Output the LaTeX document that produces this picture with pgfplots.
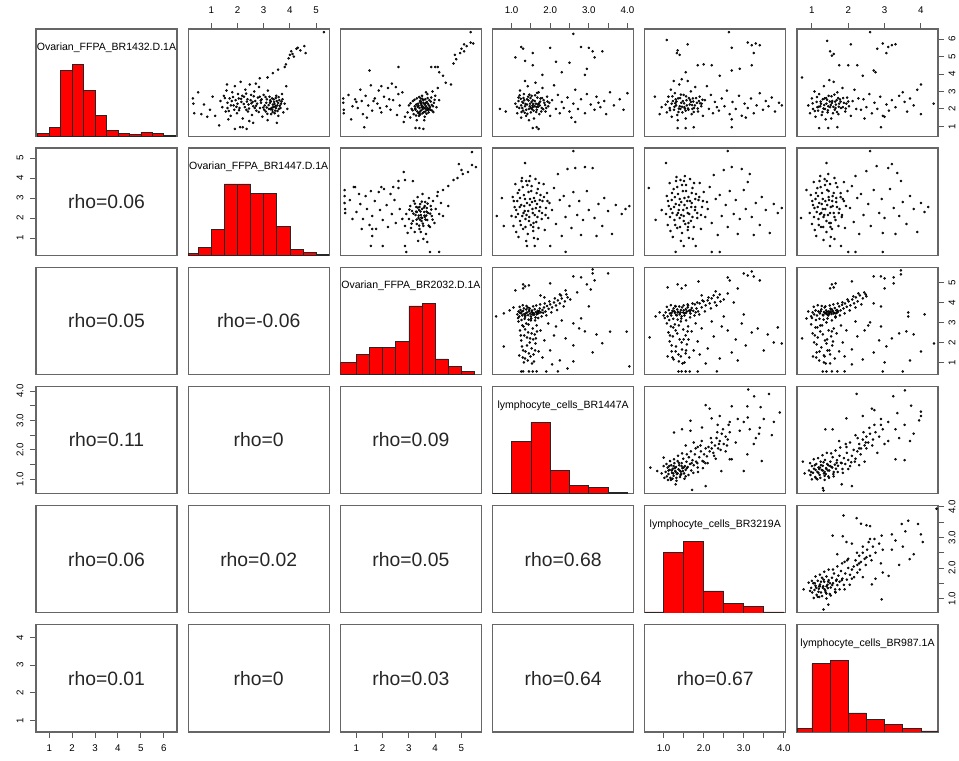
\documentclass[border=0pt]{standalone}
\usepackage{fontspec}
\setmainfont{Liberation Sans}
\usepackage{pgfplots}
\pgfplotsset{compat=1.18}
\newcommand\tf{\fontsize{7.3}{8}\selectfont}
\newcommand\rf{\fontsize{14.5}{16}\selectfont}
\newcommand\hf{\fontsize{7.9}{9}\selectfont}
\pgfplotsset{
 panel/.style={scale only axis, width=105.75pt, height=80.6pt, anchor=north west,
   axis line style={draw=black!60, line width=0.9pt}, xtick=\empty, ytick=\empty,
   tick align=outside, major tick length=4.5pt, tick style={draw=black!65, line width=0.7pt},
   ticklabel style={font=\tf}},
 sc/.style={only marks, mark=*, mark size=0.75pt, mark options={draw=none, fill=black!80}},
 hb/.style={ybar interval, fill=red, draw=black!85, line width=0.5pt, mark=none},
 Xa/.style={xmin=0.42, xmax=6.58}, Ya/.style={ymin=0.42, ymax=6.58},
 Xb/.style={xmin=0.12, xmax=5.50}, Yb/.style={ymin=0.12, ymax=5.50},
 Xc/.style={xmin=0.39, xmax=5.76}, Yc/.style={ymin=0.39, ymax=5.76},
 Xd/.style={xmin=0.51, xmax=4.16}, Yd/.style={ymin=0.51, ymax=4.16},
 Xe/.style={xmin=0.53, xmax=4.05}, Ye/.style={ymin=0.53, ymax=4.05},
 Xf/.style={xmin=0.59, xmax=4.47}, Yf/.style={ymin=0.59, ymax=4.47},
 Hy/.style={ymin=0, ymax=1.5},
 topt/.style={xtick pos=right, xticklabel pos=right, xticklabel style={anchor=center, yshift=9.75pt}},
 bott/.style={xtick pos=left, xticklabel pos=left, xticklabel style={anchor=center, yshift=-7.5pt}},
 leftt/.style={ytick pos=left, yticklabel pos=left, yticklabel style={xshift=-7.5pt, rotate=90, anchor=center}},
 rightt/.style={ytick pos=right, yticklabel pos=right, yticklabel style={xshift=6pt, rotate=90, anchor=center}},
}
\newcommand\rhotxt[1]{\node[font=\rf, text=black!85] at (rel axis cs:0.5,0.5) {rho=#1};}
\newcommand\ttl[1]{\node[font=\hf] at (rel axis cs:0.5,0.823) {#1};}
\begin{document}
\begin{tikzpicture}
\useasboundingbox (0,0) rectangle (719.25pt,570pt);
% ---------------- Row 1 ----------------
\begin{axis}[panel, at={(27pt,548.25pt)}, Xa, Hy]
\addplot[hb] coordinates {(0.5,0.047)(1.0,0.13)(1.5,0.926)(2.0,1.0)(2.5,0.647)(3.0,0.293)(3.5,0.084)(4.0,0.047)(4.5,0.023)(5.0,0.056)(5.5,0.037)(6.0,0.014)(6.5,0)};
\ttl{Ovarian\_FFPA\_BR1432.D.1A}
\end{axis}
\begin{axis}[panel, at={(141.15pt,548.25pt)}, Xb, Ya, topt, xtick={1,2,3,4,5}, xticklabels={1,2,3,4,5}]
\addplot[sc] coordinates {
(1.35,2.45)(1.42,2.10)(1.48,2.75)(1.55,1.85)(1.58,3.05)(1.62,2.35)(1.70,2.60)(1.74,1.60)(1.80,2.95)(1.85,2.20)(1.90,3.30)(1.93,2.50)(1.98,1.75)(2.02,2.85)(2.08,2.05)(2.12,3.55)(2.15,2.40)(2.20,1.45)(2.25,2.70)(2.30,3.10)(2.34,1.95)(2.38,2.55)(2.42,2.25)(2.47,3.40)(2.52,2.80)(2.55,1.65)(2.60,2.15)(2.64,3.00)(2.68,2.45)(2.72,1.90)(2.78,2.65)(2.82,3.25)(2.86,2.05)(2.90,2.35)(2.95,1.55)(3.00,2.80)(3.04,2.20)(3.08,1.85)(3.12,2.55)(3.16,3.05)(3.20,2.00)(3.24,2.35)(3.28,1.70)(3.32,2.60)(3.36,2.10)(3.40,2.40)(3.44,1.90)(3.48,2.75)(3.52,2.20)(3.56,1.60)(3.60,2.50)(3.64,2.05)(3.70,2.85)(3.75,1.80)(3.80,2.30)(3.86,3.30)(3.90,2.00)(1.65,1.40)(2.45,1.30)(3.15,1.35)(3.35,2.25)(3.45,2.15)(3.25,2.50)(2.05,2.60)(1.75,2.20)(2.50,2.50)(2.85,2.70)(3.55,2.35)(1.60,3.40)(2.70,3.45)
(1.62,2.05)(1.78,2.45)(1.88,1.95)(2.00,2.30)(2.18,2.75)(2.28,2.10)(2.40,1.85)(2.58,2.40)(2.66,2.05)(2.75,2.30)(2.92,2.55)(3.02,1.95)(3.10,2.35)(3.22,2.70)(3.30,2.05)(3.38,2.55)(3.42,1.75)(3.50,2.45)(3.58,2.00)(3.66,2.30)(3.72,2.55)(3.33,1.95)(3.47,2.05)
(0.30,2.60)(0.32,2.30)(0.35,1.75)(0.50,2.95)(0.62,1.70)(0.72,2.25)(0.85,1.55)(0.95,1.95)(1.05,2.70)(1.15,1.60)
(3.15,3.80)(3.35,4.05)(3.55,4.25)(3.80,4.40)(3.85,4.55)(3.95,4.90)(4.00,5.10)(4.05,5.30)(4.15,5.00)(4.30,5.50)(4.40,5.35)(4.55,5.60)(4.60,5.20)(4.25,5.45)(5.30,6.40)(2.85,3.75)(4.10,5.15)
(1.90,0.85)(2.10,0.95)(2.20,0.95)(2.35,0.85)(2.60,1.20)(3.50,1.20)(1.30,1.05)};
\addplot[sc] coordinates {(1.52,2.62)(1.67,1.88)(1.83,2.68)(1.96,2.12)(2.06,1.92)(2.14,2.58)(2.24,2.28)(2.33,2.88)(2.44,2.02)(2.53,2.32)(2.62,2.72)(2.71,2.18)(2.81,1.82)(2.89,2.48)(2.98,2.08)(3.07,2.68)(3.14,1.72)(3.19,2.22)(3.27,2.42)(3.34,1.82)(3.41,2.28)(3.46,2.62)(3.53,1.88)(3.61,2.18)(3.68,2.42)(3.57,2.68)(3.39,2.12)(3.26,1.98)(3.12,2.08)(2.36,2.42)};
\end{axis}
\begin{axis}[panel, at={(255.3pt,548.25pt)}, Xc, Ya]
\addplot[sc] coordinates {
(0.50,2.60)(0.50,2.35)(0.52,1.95)(0.52,1.75)(0.70,2.80)(0.85,2.15)(0.95,2.55)(1.05,2.05)(1.15,3.10)(1.20,2.45)(1.25,1.70)(1.35,2.75)(1.45,2.20)(1.55,3.35)(1.60,1.90)(1.70,2.60)(1.80,2.30)(1.85,3.05)(1.95,1.80)(2.05,2.70)(2.15,2.15)(2.20,3.20)(2.30,1.95)(2.40,2.50)(2.50,3.25)(2.55,1.65)(2.65,2.20)(2.75,2.95)(2.85,1.55)(1.40,1.50)(0.80,1.40)(2.35,3.45)(1.95,3.30)
(2.95,1.80)(3.00,2.20)(3.05,1.50)(3.10,2.00)(3.15,2.45)(3.18,1.70)(3.22,2.15)(3.25,1.95)(3.30,2.60)(3.32,1.85)(3.35,2.30)(3.38,1.60)(3.40,2.05)(3.42,2.45)(3.45,1.90)(3.48,2.20)(3.50,2.75)(3.52,1.75)(3.55,2.35)(3.58,2.05)(3.60,1.55)(3.62,2.55)(3.65,2.15)(3.68,1.95)(3.70,2.85)(3.72,2.30)(3.75,1.80)(3.78,2.50)(3.80,2.10)(3.85,2.65)(3.88,1.90)(3.90,3.00)(3.95,2.35)(4.00,2.75)(4.05,2.10)(4.10,3.20)(4.15,2.50)(3.45,2.60)(3.58,1.35)(3.30,1.35)(3.65,2.95)
(3.28,2.25)(3.36,1.75)(3.44,2.35)(3.52,1.98)(3.60,2.25)(3.70,2.05)(3.76,2.20)(3.82,1.95)(3.40,1.80)(3.55,2.50)(3.62,1.85)(3.48,2.10)(3.68,2.40)(3.92,2.15)
(4.15,4.10)(4.30,3.90)(3.85,4.40)(4.00,4.40)(4.10,4.40)(4.70,4.60)(4.75,5.10)(4.80,4.85)(4.95,5.20)(5.00,5.45)(5.10,5.70)(5.20,5.60)(5.35,5.80)(5.45,5.75)(5.35,6.40)(5.10,5.30)(4.60,3.40)(4.40,3.50)
(1.50,4.20)(2.60,4.40)(1.30,0.95)(3.25,0.90)(3.40,0.90)(3.55,0.85)(2.80,1.25)};
\addplot[sc] coordinates {(3.06,2.32)(3.14,1.92)(3.21,2.52)(3.27,1.62)(3.33,2.12)(3.39,2.68)(3.43,1.68)(3.47,2.28)(3.51,2.58)(3.57,1.82)(3.63,2.32)(3.67,1.72)(3.71,2.62)(3.77,2.02)(3.83,2.42)(3.87,2.22)(3.93,1.82)(3.98,2.52)(3.36,2.18)(3.54,2.12)(3.74,1.92)(3.46,2.42)(3.24,2.02)(3.62,2.02)(1.00,2.40)(1.65,2.45)(2.25,2.55)(2.60,2.85)(1.90,2.05)};
\end{axis}
\begin{axis}[panel, at={(369.45pt,548.25pt)}, Xd, Ya, topt, xtick={1,1.5,2,2.5,3,3.5,4}, xticklabels={1.0,,2.0,,3.0,,4.0}]
\addplot[sc] coordinates {
(1.10,2.30)(1.15,1.75)(1.18,2.65)(1.20,2.05)(1.22,3.05)(1.25,1.50)(1.28,2.40)(1.30,1.90)(1.32,2.85)(1.35,2.15)(1.38,1.60)(1.40,2.55)(1.42,3.30)(1.45,2.00)(1.48,2.30)(1.50,1.80)(1.52,2.75)(1.55,2.10)(1.58,1.45)(1.60,2.45)(1.62,3.50)(1.65,1.95)(1.68,2.25)(1.70,2.95)(1.72,1.70)(1.75,2.60)(1.78,2.05)(1.80,3.20)(1.85,2.35)(1.88,1.85)(1.92,2.70)(1.95,2.15)(2.00,1.60)(2.05,2.50)(2.10,3.35)(2.15,2.00)(2.20,2.80)(2.25,1.75)(2.30,2.40)(1.35,3.60)(1.45,1.35)(1.25,2.20)(1.55,2.50)(1.65,2.10)(1.40,2.25)
(1.18,2.45)(1.28,2.05)(1.33,2.50)(1.38,1.95)(1.43,2.70)(1.47,2.15)(1.52,2.40)(1.57,1.90)(1.63,2.30)(1.67,2.65)(1.73,2.20)(1.77,1.85)(1.83,2.50)(1.90,2.05)(1.98,2.35)(1.30,2.35)(1.50,2.05)(1.60,2.15)
(2.35,2.05)(2.45,2.65)(2.50,1.85)(2.60,2.30)(2.65,3.10)(2.72,2.00)(2.80,2.55)(2.90,1.75)(2.95,2.85)(3.05,2.25)(3.15,1.95)(3.20,2.70)(3.30,2.10)(3.40,2.45)(3.45,1.70)(3.55,2.95)(3.65,2.20)(3.80,2.55)(3.90,1.95)(4.00,2.90)(3.25,2.35)(2.55,1.50)
(1.10,4.95)(1.25,5.55)(1.30,5.45)(1.35,4.75)(1.55,5.20)(1.55,4.50)(1.80,3.95)(2.00,5.50)(2.15,4.70)(2.30,4.10)(2.50,4.65)(2.60,6.30)(2.80,5.55)(2.90,3.95)(3.00,5.50)(3.10,5.30)(3.15,4.95)(3.35,5.30)(2.95,4.30)
(1.55,0.90)(1.65,0.95)(1.70,0.85)(2.65,1.25)(0.85,1.85)(0.70,2.00)};
\addplot[sc] coordinates {(1.14,2.12)(1.21,2.78)(1.26,1.82)(1.31,2.62)(1.36,2.28)(1.41,1.72)(1.44,2.48)(1.49,2.62)(1.53,1.98)(1.56,2.28)(1.61,2.78)(1.64,1.82)(1.69,2.12)(1.74,2.42)(1.79,2.62)(1.82,1.98)(1.87,2.22)(1.93,2.42)(1.24,2.58)(1.46,2.82)(1.66,2.92)(1.34,1.78)(1.54,2.18)(1.71,2.32)};
\end{axis}
\begin{axis}[panel, at={(483.6pt,548.25pt)}, Xe, Ya]
\addplot[sc] coordinates {
(1.05,2.25)(1.08,1.80)(1.12,2.70)(1.15,2.05)(1.18,3.10)(1.20,1.55)(1.23,2.45)(1.26,1.95)(1.28,2.90)(1.31,2.20)(1.34,1.65)(1.36,2.60)(1.39,3.40)(1.42,2.00)(1.44,2.35)(1.47,1.80)(1.50,2.80)(1.52,2.10)(1.55,1.45)(1.57,2.50)(1.60,3.60)(1.62,1.95)(1.65,2.25)(1.68,3.00)(1.70,1.70)(1.73,2.60)(1.76,2.05)(1.79,3.25)(1.83,2.35)(1.86,1.85)(1.90,2.70)(1.94,2.15)(1.98,1.60)(2.03,2.50)(2.08,3.30)(2.13,2.00)(2.18,2.80)(2.23,1.75)(2.28,2.40)(2.33,2.10)(1.20,2.30)(1.30,2.55)(1.40,2.15)(1.48,2.45)(1.58,2.20)(1.68,2.40)(1.78,2.20)(1.88,2.45)(1.35,1.35)(1.25,3.60)(1.45,3.70)(1.55,1.90)(1.72,2.00)(1.95,2.30)
(2.38,1.90)(2.45,2.60)(2.52,2.15)(2.58,3.05)(2.65,1.70)(2.72,2.40)(2.80,2.00)(2.88,2.75)(2.95,1.60)(3.02,2.30)(3.10,2.05)(3.18,2.60)(3.25,1.75)(3.32,2.20)(3.40,2.90)(3.48,1.95)(3.55,2.45)(3.62,2.15)(3.70,2.65)(3.78,1.85)(3.88,2.35)(3.95,2.20)(2.70,1.40)(3.05,1.50)
(1.08,5.95)(1.33,5.20)(1.35,5.35)(1.40,5.10)(1.60,5.70)(1.85,4.50)(2.00,4.55)(2.20,4.50)(2.40,3.90)(2.63,6.40)(2.70,5.50)(2.70,4.20)(2.90,4.30)(3.10,5.80)(3.20,5.65)(3.30,5.75)(3.40,5.65)(3.25,5.20)(3.20,4.50)(1.55,4.10)
(1.35,0.90)(1.55,0.90)(1.75,0.95)(2.70,0.95)(0.78,2.70)(0.95,2.10)(0.90,1.70)};
\addplot[sc] coordinates {(1.10,2.42)(1.16,1.92)(1.22,2.72)(1.27,2.12)(1.32,2.42)(1.37,1.82)(1.41,2.62)(1.46,2.12)(1.51,2.32)(1.56,2.72)(1.61,2.02)(1.66,2.52)(1.71,2.22)(1.75,1.82)(1.81,2.62)(1.85,2.02)(1.91,2.32)(1.97,2.52)(1.29,2.32)(1.43,2.82)(1.63,2.62)(1.74,2.42)(1.53,2.02)(1.38,2.02)};
\end{axis}
\begin{axis}[panel, at={(597.75pt,548.25pt)}, Xf, Ya, topt, rightt, xtick={1,2,3,4}, xticklabels={1,2,3,4}, ytick={1,2,3,4,5,6}, yticklabels={1,2,3,4,5,6}]
\addplot[sc] coordinates {
(0.90,2.20)(0.95,1.75)(1.00,2.60)(1.03,2.00)(1.07,3.00)(1.10,1.55)(1.13,2.40)(1.17,1.90)(1.20,2.85)(1.23,2.15)(1.27,1.65)(1.30,2.55)(1.33,3.30)(1.36,2.00)(1.40,2.30)(1.43,1.80)(1.46,2.75)(1.50,2.10)(1.53,1.45)(1.56,2.45)(1.60,3.55)(1.63,1.95)(1.66,2.25)(1.70,2.95)(1.73,1.70)(1.77,2.55)(1.80,2.05)(1.84,3.20)(1.88,2.35)(1.92,1.85)(1.97,2.65)(2.02,2.15)(2.07,1.60)(2.12,2.45)(2.17,3.10)(2.22,2.00)(2.28,2.60)(1.25,2.30)(1.35,2.60)(1.45,2.15)(1.55,2.35)(1.65,2.05)(1.75,2.30)(1.85,2.10)(1.38,1.40)(1.48,3.65)(1.58,1.75)(1.68,2.50)(1.15,2.10)(1.95,2.30)
(2.35,1.95)(2.42,2.55)(2.50,2.10)(2.58,2.85)(2.65,1.75)(2.72,2.35)(2.80,2.00)(2.88,2.70)(2.95,1.60)(3.05,2.25)(3.12,1.90)(3.20,2.50)(3.30,2.10)(3.40,2.75)(3.50,2.95)(3.55,2.40)(3.62,1.85)(3.70,2.60)(3.80,2.20)(3.90,3.10)(4.00,3.40)(4.00,1.70)(4.35,2.30)(2.45,1.45)(3.00,1.55)
(1.42,5.90)(1.50,5.30)(1.55,5.05)(1.60,5.15)(2.07,5.70)(2.60,6.40)(2.80,5.45)(2.95,5.75)(3.10,5.55)(3.20,5.65)(3.30,5.70)(3.05,5.20)(2.70,4.20)(2.75,4.10)(1.75,4.50)(2.00,4.50)(2.25,4.50)(0.73,3.80)(2.40,3.90)
(1.20,0.90)(1.45,0.90)(1.70,0.95)(2.90,0.95)};
\addplot[sc] coordinates {(1.02,2.32)(1.08,1.88)(1.14,2.68)(1.19,2.12)(1.24,2.42)(1.29,1.82)(1.34,2.22)(1.39,2.62)(1.44,1.92)(1.49,2.42)(1.54,2.72)(1.59,2.12)(1.64,2.42)(1.69,1.82)(1.74,2.12)(1.79,2.42)(1.86,2.62)(1.93,2.02)(2.00,2.42)(1.32,2.02)(1.52,2.22)(1.62,2.82)(1.72,2.62)(1.42,2.52)};
\end{axis}
% ---------------- Row 2 ----------------
\begin{axis}[panel, at={(27pt,458.93pt)}, Xa, Yb, leftt, ytick={1,2,3,4,5}, yticklabels={1,2,3,4,5}]
\rhotxt{0.06}
\end{axis}
\begin{axis}[panel, at={(141.15pt,458.93pt)}, Xb, Hy]
\addplot[hb] coordinates {(0.12,0.033)(0.5,0.11)(1.0,0.36)(1.5,1.0)(2.0,1.0)(2.5,0.87)(3.0,0.87)(3.5,0.41)(4.0,0.08)(4.5,0.04)(5.0,0.02)(5.5,0)};
\ttl{Ovarian\_FFPA\_BR1447.D.1A}
\end{axis}
\begin{axis}[panel, at={(255.3pt,458.93pt)}, Xc, Yb]
\addplot[sc] coordinates {
(0.55,3.40)(0.55,3.10)(0.55,2.75)(0.57,2.45)(0.57,2.25)(0.75,2.90)(0.90,3.55)(1.00,2.30)(1.10,3.20)(1.15,2.70)(1.25,1.95)(1.35,3.10)(1.40,2.45)(1.50,1.65)(1.55,3.35)(1.60,2.10)(1.70,2.85)(1.75,1.45)(1.85,3.30)(1.90,2.40)(2.00,1.90)(2.05,3.45)(2.15,2.65)(2.20,1.55)(2.30,3.20)(2.35,2.20)(2.45,2.90)(2.50,1.75)(2.60,3.50)(2.65,2.45)(2.75,1.95)(1.20,1.45)(0.85,1.95)(1.60,1.45)(2.40,3.55)(1.95,3.55)
(2.85,1.60)(2.90,2.20)(2.95,1.25)(3.00,1.95)(3.05,2.60)(3.08,1.50)(3.12,2.35)(3.15,1.85)(3.18,2.85)(3.22,1.30)(3.25,2.15)(3.28,2.55)(3.30,1.70)(3.33,3.05)(3.36,2.00)(3.38,2.40)(3.40,1.45)(3.43,2.70)(3.45,2.15)(3.48,1.85)(3.50,2.45)(3.52,3.20)(3.55,1.60)(3.58,2.30)(3.60,2.05)(3.62,2.80)(3.65,1.20)(3.68,2.50)(3.70,1.90)(3.73,2.25)(3.76,3.00)(3.80,1.55)(3.83,2.60)(3.87,2.10)(3.92,2.85)(3.97,1.75)(4.02,2.45)(4.08,3.10)(4.15,2.20)(4.22,2.75)(3.35,0.85)(3.55,0.95)(3.40,2.55)(3.50,2.00)(3.60,2.60)(3.30,2.30)(3.45,1.30)(3.70,0.80)
(4.70,3.90)(4.85,4.00)(5.05,4.20)(5.25,4.30)(5.40,4.65)(5.55,4.55)(4.90,4.70)(5.40,5.30)(4.30,3.40)(4.50,3.60)(5.00,4.40)(4.10,3.30)
(2.80,4.30)(0.95,3.55)(2.60,3.85)(2.85,3.90)(3.15,3.85)(1.55,0.60)(2.00,0.60)(2.85,0.60)(2.90,0.30)(3.80,0.30)(4.15,0.30)(1.60,1.10)(4.50,2.60)(4.30,2.10)};
\addplot[sc] coordinates {(3.02,2.42)(3.10,1.72)(3.17,2.22)(3.23,2.72)(3.29,1.92)(3.34,2.52)(3.39,1.62)(3.44,2.32)(3.49,2.82)(3.53,1.72)(3.57,2.52)(3.63,1.92)(3.67,2.32)(3.71,2.72)(3.75,1.62)(3.81,2.22)(3.85,2.42)(3.90,1.92)(3.47,2.02)(3.59,2.12)(3.37,2.12)(3.27,2.32)(3.42,1.92)(3.66,2.12)};
\end{axis}
\begin{axis}[panel, at={(369.45pt,458.93pt)}, Xd, Yb]
\addplot[sc] coordinates {
(1.00,2.10)(1.03,3.05)(1.05,1.60)(1.08,2.55)(1.10,3.70)(1.12,1.30)(1.15,2.85)(1.17,2.20)(1.20,3.40)(1.22,1.85)(1.25,2.65)(1.27,4.00)(1.30,1.45)(1.32,3.15)(1.34,2.35)(1.36,1.95)(1.38,3.85)(1.40,2.75)(1.42,1.20)(1.44,3.30)(1.46,2.05)(1.48,2.95)(1.50,1.65)(1.52,3.60)(1.54,2.45)(1.56,1.35)(1.58,3.00)(1.60,2.15)(1.62,3.95)(1.64,1.80)(1.66,2.70)(1.68,3.45)(1.70,1.50)(1.72,2.35)(1.75,3.15)(1.78,1.95)(1.80,2.85)(1.83,3.70)(1.86,1.40)(1.89,2.50)(1.92,3.25)(1.95,2.00)(1.98,2.75)(1.12,2.40)(1.22,3.00)(1.33,2.60)(1.43,2.35)(1.53,2.80)(1.63,2.50)(1.73,2.90)(1.28,2.10)(1.48,4.10)(1.58,1.00)(1.38,0.85)(1.18,1.05)(1.68,0.95)
(2.05,2.40)(2.10,3.50)(2.15,1.70)(2.20,4.20)(2.25,2.90)(2.30,1.10)(2.35,3.10)(2.40,2.05)(2.45,4.45)(2.50,2.60)(2.55,1.50)(2.60,3.30)(2.65,4.50)(2.70,2.15)(2.75,2.85)(2.85,1.90)(2.90,4.55)(2.95,3.35)(3.00,2.40)(3.10,4.50)(3.15,2.00)(3.25,2.70)(3.35,1.60)(3.40,3.00)(3.50,2.35)(3.60,1.20)(3.70,2.65)(3.85,2.20)(3.95,2.45)(4.05,2.60)(2.80,1.15)(3.20,1.10)
(2.60,5.35)(1.35,4.75)(0.62,2.10)(0.75,3.00)(2.40,0.30)(1.40,0.60)(1.60,0.60)(2.00,0.60)(0.80,1.60)};
\addplot[sc] coordinates {(1.06,2.85)(1.11,2.05)(1.16,3.25)(1.21,2.55)(1.24,1.65)(1.29,3.55)(1.31,2.25)(1.35,2.95)(1.39,2.15)(1.41,3.65)(1.45,1.85)(1.47,2.65)(1.51,3.35)(1.55,2.25)(1.57,1.75)(1.61,2.85)(1.65,3.25)(1.67,2.05)(1.71,3.75)(1.74,2.55)(1.79,2.25)(1.84,3.05)(1.88,2.15)(1.93,2.85)(1.26,3.85)(1.46,3.85)(1.36,1.55)(1.56,1.55)};
\end{axis}
\begin{axis}[panel, at={(483.6pt,458.93pt)}, Xe, Yb]
\addplot[sc] coordinates {
(1.06,2.20)(1.08,3.10)(1.10,1.65)(1.13,2.60)(1.15,3.75)(1.17,1.35)(1.20,2.90)(1.22,2.25)(1.25,3.45)(1.27,1.90)(1.30,2.70)(1.32,4.05)(1.34,1.50)(1.36,3.20)(1.38,2.40)(1.40,2.00)(1.42,3.90)(1.44,2.80)(1.46,1.25)(1.48,3.35)(1.50,2.10)(1.52,3.00)(1.54,1.70)(1.56,3.65)(1.58,2.50)(1.60,1.40)(1.62,3.05)(1.64,2.20)(1.66,3.95)(1.68,1.85)(1.70,2.75)(1.72,3.50)(1.75,1.55)(1.78,2.40)(1.81,3.20)(1.84,2.00)(1.87,2.90)(1.90,3.75)(1.93,1.45)(1.96,2.55)(2.00,3.30)(2.04,2.05)(2.08,2.80)(1.18,2.45)(1.28,3.05)(1.39,2.65)(1.49,2.40)(1.59,2.85)(1.69,2.55)(1.79,2.95)(1.33,2.15)(1.53,4.10)(1.63,1.00)(1.43,0.85)(1.23,1.05)(1.73,0.95)
(2.10,2.45)(2.15,3.55)(2.20,1.75)(2.25,4.15)(2.30,2.95)(2.35,1.15)(2.40,3.15)(2.45,2.10)(2.50,4.40)(2.55,2.65)(2.60,1.55)(2.65,3.35)(2.70,4.55)(2.75,2.20)(2.80,2.90)(2.90,1.95)(2.95,4.45)(3.00,3.40)(3.05,2.45)(3.15,4.20)(3.20,2.05)(3.30,2.75)(3.40,1.65)(3.45,3.05)(3.55,2.40)(3.65,1.25)(3.75,2.70)(3.85,2.25)(3.95,2.50)(2.85,1.20)(3.25,1.15)(3.10,3.80)
(2.60,5.35)(1.06,4.75)(0.63,3.50)(0.95,2.40)(1.30,0.30)(2.20,0.30)(2.40,0.30)(1.50,0.60)(1.80,0.60)(0.80,1.90)};
\addplot[sc] coordinates {(1.11,2.85)(1.16,2.05)(1.21,3.25)(1.26,2.55)(1.29,1.65)(1.34,3.55)(1.36,2.25)(1.40,2.95)(1.44,2.15)(1.46,3.65)(1.50,1.85)(1.52,2.65)(1.56,3.35)(1.60,2.25)(1.62,1.75)(1.66,2.85)(1.70,3.25)(1.72,2.05)(1.76,3.75)(1.79,2.55)(1.84,2.25)(1.89,3.05)(1.93,2.15)(1.98,2.85)(1.31,3.85)(1.51,3.85)(1.41,1.55)(1.61,1.55)};
\end{axis}
\begin{axis}[panel, at={(597.75pt,458.93pt)}, Xf, Yb]
\addplot[sc] coordinates {
(0.94,2.25)(0.97,3.15)(1.00,1.70)(1.03,2.65)(1.05,3.80)(1.08,1.40)(1.10,2.95)(1.13,2.30)(1.15,3.50)(1.18,1.95)(1.20,2.75)(1.23,4.10)(1.25,1.55)(1.28,3.25)(1.30,2.45)(1.32,2.05)(1.35,3.95)(1.37,2.85)(1.40,1.30)(1.42,3.40)(1.44,2.15)(1.46,3.05)(1.48,1.75)(1.50,3.70)(1.52,2.55)(1.55,1.45)(1.57,3.10)(1.60,2.25)(1.62,4.00)(1.65,1.90)(1.67,2.80)(1.70,3.55)(1.73,1.60)(1.76,2.45)(1.79,3.25)(1.82,2.05)(1.85,2.95)(1.88,3.80)(1.91,1.50)(1.94,2.60)(1.98,3.35)(1.07,2.50)(1.17,3.10)(1.27,2.70)(1.37,2.45)(1.47,2.90)(1.57,2.60)(1.67,3.00)(1.22,2.20)(1.45,4.20)(1.52,1.05)(1.32,0.90)(1.12,1.10)(1.62,0.95)
(2.05,2.50)(2.10,3.60)(2.15,1.80)(2.20,4.10)(2.25,3.00)(2.30,1.20)(2.35,3.20)(2.42,2.15)(2.50,4.35)(2.55,2.70)(2.62,1.60)(2.70,3.40)(2.78,4.60)(2.85,2.25)(2.92,2.95)(3.00,2.00)(3.10,4.50)(3.15,3.45)(3.25,2.50)(3.35,4.25)(3.40,2.10)(3.50,2.80)(3.60,1.70)(3.70,3.10)(3.80,2.45)(3.90,1.30)(4.00,2.75)(4.10,2.30)(4.20,2.55)(2.95,1.25)(3.30,1.20)(3.45,3.85)
(2.60,5.35)(1.40,4.75)(0.70,2.00)(0.85,3.40)(2.00,0.30)(2.20,0.30)(2.95,0.30)(1.50,0.60)(1.80,0.60)(3.20,4.70)};
\addplot[sc] coordinates {(1.01,2.85)(1.06,2.05)(1.11,3.25)(1.16,2.55)(1.19,1.65)(1.24,3.55)(1.26,2.25)(1.30,2.95)(1.34,2.15)(1.36,3.65)(1.40,1.85)(1.42,2.65)(1.46,3.35)(1.50,2.25)(1.52,1.75)(1.56,2.85)(1.60,3.25)(1.62,2.05)(1.66,3.75)(1.69,2.55)(1.74,2.25)(1.79,3.05)(1.83,2.15)(1.88,2.85)(1.21,3.85)(1.41,3.85)(1.31,1.55)(1.51,1.55)};
\end{axis}
% ---------------- Row 3 ----------------
\begin{axis}[panel, at={(27pt,369.6pt)}, Xa, Yc]
\rhotxt{0.05}
\end{axis}
\begin{axis}[panel, at={(141.15pt,369.6pt)}, Xb, Yc]
\rhotxt{-0.06}
\end{axis}
\begin{axis}[panel, at={(255.3pt,369.6pt)}, Xc, Hy]
\addplot[hb] coordinates {(0.39,0.17)(1.0,0.28)(1.5,0.375)(2.0,0.375)(2.5,0.46)(3.0,0.96)(3.5,1.0)(4.0,0.22)(4.5,0.11)(5.0,0.04)(5.5,0)};
\ttl{Ovarian\_FFPA\_BR2032.D.1A}
\end{axis}
\begin{axis}[panel, at={(369.45pt,369.6pt)}, Xd, Yc]
\addplot[sc] coordinates {
(1.15,3.40)(1.18,3.55)(1.20,3.30)(1.23,3.62)(1.25,3.45)(1.28,3.35)(1.30,3.58)(1.33,3.42)(1.35,3.28)(1.38,3.65)(1.40,3.50)(1.43,3.36)(1.45,3.55)(1.48,3.44)(1.50,3.30)(1.53,3.60)(1.55,3.48)(1.58,3.38)(1.60,3.66)(1.63,3.52)(1.65,3.40)(1.68,3.58)(1.70,3.46)(1.73,3.70)(1.76,3.50)(1.80,3.62)(1.84,3.75)(1.88,3.55)(1.92,3.82)(1.96,3.68)(2.00,3.90)(2.05,3.75)(2.10,4.00)(2.15,3.85)(2.20,4.10)(2.25,3.95)(2.30,4.20)(2.38,4.05)(2.45,4.25)(2.52,4.15)(1.22,3.48)(1.37,3.45)(1.52,3.52)(1.67,3.48)(1.82,3.48)(1.42,3.75)(1.62,3.25)(1.32,3.70)(0.60,3.30)(0.80,3.45)(0.95,3.60)(1.05,3.75)
(1.18,3.05)(1.22,2.60)(1.25,2.10)(1.28,2.85)(1.30,1.60)(1.33,2.35)(1.35,1.20)(1.38,2.95)(1.40,1.85)(1.43,2.50)(1.45,1.45)(1.48,2.20)(1.50,3.10)(1.52,1.70)(1.55,2.70)(1.58,1.05)(1.60,2.40)(1.62,1.95)(1.65,2.85)(1.20,1.35)(1.27,1.80)(1.35,2.65)(1.42,1.10)(1.47,2.00)(1.57,1.40)(1.63,2.20)(1.32,1.00)(1.40,2.25)(1.52,2.45)(1.70,1.55)(1.75,2.60)(1.80,1.25)(1.85,2.10)
(2.00,1.60)(2.25,1.10)(2.60,1.85)(2.60,1.05)(2.60,2.95)(2.75,2.70)(2.90,2.55)(3.10,1.50)(3.20,2.40)(3.35,1.96)(3.55,2.54)(3.98,2.54)(4.05,0.80)(2.40,2.20)(2.15,2.80)(1.95,2.95)(2.30,3.10)(2.80,3.20)(2.10,2.35)(3.00,3.80)(0.80,1.80)(2.05,0.90)(2.45,0.70)
(1.10,4.60)(1.30,4.90)(1.35,4.80)(1.45,4.85)(1.30,4.70)(2.00,4.95)(2.60,5.30)(2.80,5.25)(2.95,4.90)(3.05,4.65)(3.15,5.10)(3.10,5.65)(3.10,5.45)(3.50,5.45)(2.70,4.50)(2.40,4.60)(1.85,4.25)(1.75,4.35)(2.25,4.40)
(1.25,0.55)(1.30,0.55)(1.45,0.55)(1.55,0.55)(1.65,0.55)(1.90,0.55)(2.20,0.55)};
\addplot[sc] coordinates {(1.17,3.22)(1.21,3.78)(1.26,3.12)(1.29,3.86)(1.34,3.18)(1.39,3.82)(1.44,3.14)(1.47,3.70)(1.51,3.20)(1.56,3.80)(1.61,3.10)(1.64,3.85)(1.69,3.22)(1.74,3.90)(1.78,3.30)(1.86,3.95)(1.90,3.35)(1.98,4.05)(2.03,3.50)(2.12,4.20)(2.18,3.62)(2.28,4.35)(2.35,3.80)(2.42,4.40)(1.27,3.55)(1.46,3.62)(1.58,3.45)(1.72,3.55)(1.36,3.35)(1.54,3.40)(1.24,2.35)(1.31,2.80)(1.36,1.55)(1.44,2.90)(1.49,1.30)(1.56,2.15)(1.61,1.60)(1.66,2.55)(1.29,1.25)(1.53,0.95)};
\end{axis}
\begin{axis}[panel, at={(483.6pt,369.6pt)}, Xe, Yc]
\addplot[sc] coordinates {
(1.00,3.35)(1.05,3.50)(1.10,3.30)(1.13,3.62)(1.16,3.45)(1.19,3.35)(1.22,3.58)(1.25,3.70)(1.28,3.48)(1.31,3.38)(1.34,3.65)(1.37,3.52)(1.40,3.40)(1.43,3.62)(1.46,3.75)(1.49,3.50)(1.52,3.35)(1.55,3.66)(1.58,3.55)(1.61,3.85)(1.64,3.60)(1.67,3.45)(1.70,3.72)(1.74,3.58)(1.78,3.90)(1.82,3.70)(1.86,3.55)(1.90,3.95)(1.95,3.75)(2.00,4.05)(2.05,3.85)(2.10,4.10)(2.15,3.95)(2.20,4.20)(2.28,4.00)(2.35,4.25)(2.42,4.05)(2.50,4.15)(1.20,3.48)(1.35,3.50)(1.50,3.60)(1.65,3.55)(1.80,3.50)(1.45,3.30)(1.60,3.75)(1.30,3.80)(0.80,3.30)(0.90,3.50)
(1.08,2.95)(1.12,2.50)(1.15,2.05)(1.18,2.80)(1.20,1.55)(1.23,2.30)(1.25,1.15)(1.28,2.90)(1.31,1.80)(1.34,2.45)(1.37,1.40)(1.40,2.15)(1.43,3.05)(1.46,1.65)(1.49,2.65)(1.52,1.00)(1.55,2.35)(1.58,1.90)(1.61,2.80)(1.64,1.25)(1.10,1.30)(1.20,1.85)(1.30,2.60)(1.38,1.05)(1.45,2.00)(1.55,1.45)(1.62,2.15)(1.70,2.55)(1.75,1.60)(1.85,2.05)(1.95,2.70)(1.80,2.95)(1.90,1.40)
(2.10,1.70)(2.25,2.30)(2.40,1.20)(2.45,2.80)(2.60,2.60)(2.70,1.50)(2.80,2.15)(2.95,2.95)(3.05,1.85)(3.20,2.50)(3.35,2.70)(3.50,1.60)(3.60,2.40)(3.75,2.00)(3.95,1.95)(3.85,2.75)(2.50,3.30)(2.20,3.05)(3.00,3.40)(0.65,2.25)(2.05,0.95)(2.85,1.10)
(1.10,4.75)(1.35,4.90)(1.55,4.85)(1.45,4.70)(1.87,5.05)(2.60,5.25)(2.65,5.10)(3.00,5.45)(3.10,5.35)(3.20,5.55)(3.25,5.30)(3.40,5.10)(2.85,4.70)(2.30,4.55)(2.60,4.45)(1.95,4.35)(2.75,4.00)
(1.37,0.55)(1.45,0.55)(1.55,0.55)(1.65,0.55)(1.85,0.55)(2.33,0.55)};
\addplot[sc] coordinates {(1.03,3.22)(1.08,3.78)(1.14,3.12)(1.18,3.86)(1.24,3.18)(1.29,3.82)(1.35,3.14)(1.39,3.80)(1.44,3.20)(1.50,3.85)(1.56,3.10)(1.60,3.90)(1.66,3.25)(1.72,3.95)(1.77,3.35)(1.84,4.00)(1.89,3.40)(1.97,4.10)(2.03,3.55)(2.12,4.25)(2.18,3.70)(2.25,4.35)(2.32,3.85)(2.40,4.40)(1.27,3.55)(1.42,3.50)(1.56,3.48)(1.68,3.62)(1.33,3.35)(1.52,3.45)(1.16,2.35)(1.24,2.75)(1.30,1.55)(1.38,2.85)(1.43,1.30)(1.50,2.15)(1.56,1.60)(1.60,2.55)(1.22,1.25)(1.47,0.95)};
\end{axis}
\begin{axis}[panel, at={(597.75pt,369.6pt)}, Xf, Yc, rightt, ytick={1,2,3,4,5}, yticklabels={1,2,3,4,5}]
\addplot[sc] coordinates {
(0.98,3.30)(1.02,3.50)(1.06,3.40)(1.10,3.60)(1.14,3.35)(1.18,3.55)(1.22,3.45)(1.26,3.65)(1.30,3.38)(1.33,3.52)(1.36,3.45)(1.39,3.60)(1.42,3.40)(1.45,3.55)(1.48,3.48)(1.51,3.68)(1.54,3.42)(1.57,3.58)(1.60,3.50)(1.63,3.72)(1.66,3.45)(1.69,3.62)(1.72,3.55)(1.75,3.80)(1.79,3.60)(1.83,3.88)(1.87,3.70)(1.91,3.95)(1.96,3.78)(2.01,4.05)(2.06,3.85)(2.11,4.15)(2.16,3.95)(2.21,4.25)(2.26,4.05)(2.32,4.35)(2.40,4.20)(2.48,4.40)(1.40,3.50)(1.50,3.55)(1.60,3.45)(1.70,3.50)(1.45,3.35)(1.55,3.65)(1.35,3.75)(1.65,3.30)(0.73,2.20)(0.85,3.20)(0.90,3.55)
(0.98,2.90)(1.02,2.45)(1.06,2.00)(1.10,2.75)(1.13,1.50)(1.16,2.25)(1.20,1.10)(1.23,2.85)(1.26,1.75)(1.30,2.40)(1.33,1.35)(1.36,2.10)(1.40,3.00)(1.43,1.60)(1.46,2.60)(1.50,0.95)(1.53,2.30)(1.56,1.85)(1.60,2.70)(1.63,1.20)(1.03,1.30)(1.13,1.90)(1.23,2.55)(1.33,1.00)(1.40,1.95)(1.50,1.40)(1.58,2.05)(1.68,2.45)(1.75,1.55)(1.85,2.00)(1.95,2.60)(1.80,2.85)(1.90,1.30)
(2.10,1.65)(2.25,2.30)(2.40,1.15)(2.55,2.85)(2.60,3.00)(2.70,1.50)(2.90,2.80)(2.85,2.10)(3.05,1.80)(3.40,2.45)(3.60,2.55)(3.65,3.30)(3.65,3.50)(3.80,2.40)(4.10,3.40)(4.36,1.95)(4.00,1.55)(3.70,1.10)(3.20,2.20)(2.45,2.60)(2.20,3.05)(2.10,0.90)(3.00,1.00)
(1.50,4.70)(1.55,4.90)(1.65,4.95)(1.60,4.75)(2.10,5.05)(2.70,5.30)(2.90,5.30)(3.00,5.20)(3.25,5.25)(3.25,4.95)(3.45,5.60)(3.45,5.40)(3.00,4.70)(2.50,4.30)(2.90,3.80)(2.70,3.95)
(1.30,0.55)(1.40,0.55)(1.55,0.55)(1.70,0.55)(1.90,0.55)(2.95,0.55)(3.50,0.55)};
\addplot[sc] coordinates {(1.00,3.22)(1.05,3.78)(1.11,3.12)(1.16,3.86)(1.21,3.18)(1.27,3.82)(1.32,3.14)(1.37,3.80)(1.43,3.20)(1.49,3.85)(1.55,3.10)(1.59,3.90)(1.65,3.25)(1.71,3.95)(1.77,3.35)(1.84,4.00)(1.90,3.45)(1.98,4.15)(2.04,3.60)(2.14,4.30)(2.20,3.75)(2.28,4.45)(2.36,3.90)(2.44,4.50)(1.24,3.55)(1.39,3.48)(1.53,3.50)(1.67,3.60)(1.31,3.35)(1.47,3.42)(1.08,2.35)(1.15,2.75)(1.21,1.55)(1.28,2.85)(1.35,1.30)(1.42,2.15)(1.48,1.60)(1.55,2.55)(1.12,1.25)(1.38,0.95)};
\end{axis}
% ---------------- Row 4 ----------------
\begin{axis}[panel, at={(27pt,280.28pt)}, Xa, Yd, leftt, ytick={1,1.5,2,2.5,3,3.5,4}, yticklabels={1.0,,2.0,,3.0,,4.0}]
\rhotxt{0.11}
\end{axis}
\begin{axis}[panel, at={(141.15pt,280.28pt)}, Xb, Yd]
\rhotxt{0}
\end{axis}
\begin{axis}[panel, at={(255.3pt,280.28pt)}, Xc, Yd]
\rhotxt{0.09}
\end{axis}
\begin{axis}[panel, at={(369.45pt,280.28pt)}, Xd, Hy]
\addplot[hb] coordinates {(0.51,0.009)(1.0,0.73)(1.5,1.0)(2.0,0.326)(2.5,0.116)(3.0,0.084)(3.5,0.019)(4.0,0)};
\ttl{lymphocyte\_cells\_BR1447A}
\end{axis}
\begin{axis}[panel, at={(483.6pt,280.28pt)}, Xe, Yd]
\addplot[sc] coordinates {
(1.05,1.25)(1.08,1.10)(1.10,1.40)(1.12,1.18)(1.15,1.32)(1.17,1.05)(1.19,1.48)(1.21,1.22)(1.23,1.36)(1.25,1.12)(1.27,1.55)(1.29,1.28)(1.31,1.42)(1.33,1.18)(1.35,1.62)(1.37,1.34)(1.39,1.48)(1.41,1.08)(1.43,1.26)(1.45,1.55)(1.47,1.38)(1.49,1.70)(1.51,1.20)(1.53,1.45)(1.55,1.32)(1.57,1.60)(1.60,1.42)(1.63,1.75)(1.66,1.52)(1.69,1.30)(1.72,1.65)(1.75,1.48)(1.78,1.85)(1.81,1.60)(1.85,1.40)(1.89,1.75)(1.93,1.95)(1.97,1.62)(2.01,1.85)(2.05,2.05)(1.20,1.30)(1.30,1.25)(1.40,1.30)(1.50,1.40)(1.25,1.45)(1.35,1.20)(1.45,1.45)(1.18,0.98)(1.32,0.95)(0.95,1.20)(1.00,1.45)(1.55,1.10)
(2.08,1.78)(2.12,2.10)(2.15,1.95)(2.20,2.25)(2.24,1.90)(2.28,2.15)(2.32,2.40)(2.36,2.05)(2.40,2.30)(2.45,2.55)(2.50,2.20)(2.55,2.45)(2.60,2.35)(2.65,2.60)(1.85,2.10)(1.95,2.30)(2.00,1.60)(2.30,1.70)
(3.11,4.05)(3.26,3.82)(3.63,3.90)(3.90,3.27)(2.05,3.52)(2.15,3.40)(2.20,3.07)(2.40,3.15)(2.70,3.48)(3.09,3.48)(3.42,3.45)(2.65,2.95)(2.85,3.05)(3.00,2.95)(3.10,3.10)(2.90,2.65)(3.15,2.70)(3.38,2.55)(3.40,2.75)(3.70,2.50)(2.65,1.68)(2.70,1.68)(3.45,1.62)(3.00,1.28)(2.44,1.28)(3.09,1.85)(1.26,2.59)(1.46,2.70)(1.67,2.99)(1.67,2.65)(1.96,2.76)(1.71,0.64)(2.05,0.77)(1.30,0.83)(0.67,1.40)(0.84,1.28)(1.00,1.74)(2.80,2.25)(3.25,2.20)(2.55,1.95)(3.50,3.05)(3.75,2.95)(2.35,2.85)(3.30,2.40)(1.75,2.25)(1.55,2.15)};
\addplot[sc] coordinates {(1.07,1.52)(1.11,0.98)(1.16,1.62)(1.22,1.02)(1.26,1.68)(1.32,1.05)(1.36,1.80)(1.42,1.15)(1.46,1.88)(1.52,1.02)(1.58,1.85)(1.62,1.15)(1.68,1.95)(1.74,1.22)(1.80,2.05)(1.86,1.25)(1.92,2.15)(1.98,1.38)(2.04,1.55)(1.14,1.45)(1.28,1.38)(1.38,1.56)(1.48,1.28)(1.58,1.38)(1.70,1.55)(1.84,1.55)(1.24,1.20)(1.44,1.18)(1.02,1.05)(1.12,1.30)(2.10,1.55)(2.18,2.40)(2.26,1.80)(2.34,2.60)(2.42,2.00)(2.48,2.70)(2.58,2.15)(2.62,2.85)(2.20,2.05)(2.38,2.20)};
\end{axis}
\begin{axis}[panel, at={(597.75pt,280.28pt)}, Xf, Yd]
\addplot[sc] coordinates {
(0.92,1.30)(0.96,1.15)(1.00,1.45)(1.03,1.22)(1.06,1.36)(1.09,1.08)(1.12,1.52)(1.15,1.25)(1.18,1.40)(1.21,1.15)(1.24,1.60)(1.27,1.32)(1.30,1.46)(1.33,1.20)(1.36,1.66)(1.39,1.38)(1.42,1.52)(1.45,1.10)(1.48,1.30)(1.51,1.60)(1.54,1.42)(1.57,1.75)(1.60,1.25)(1.63,1.50)(1.66,1.36)(1.69,1.65)(1.72,1.46)(1.76,1.80)(1.80,1.56)(1.84,1.35)(1.88,1.72)(1.92,1.52)(1.96,1.90)(2.00,1.66)(2.05,1.45)(2.10,1.80)(2.15,2.00)(2.20,1.70)(1.20,1.35)(1.30,1.30)(1.40,1.35)(1.50,1.45)(1.25,1.48)(1.35,1.25)(1.45,1.48)(1.15,1.00)(1.35,0.98)(0.80,1.20)(0.75,1.60)(1.60,1.10)
(2.25,1.95)(2.30,2.20)(2.35,2.05)(2.40,2.35)(2.45,2.15)(2.50,2.45)(2.55,2.25)(2.60,2.55)(2.68,2.35)(2.75,2.60)(2.85,2.45)(2.95,2.70)(2.05,2.25)(1.95,2.10)
(2.23,3.90)(3.24,3.82)(3.56,4.02)(3.73,3.50)(4.00,3.30)(4.00,3.15)(2.65,3.40)(2.72,3.35)(1.95,3.07)(2.40,3.15)(2.90,3.05)(1.37,2.70)(1.57,2.70)(2.20,2.50)(2.90,2.85)(3.10,2.95)(3.30,2.70)(3.55,2.85)(3.40,2.40)(3.70,2.30)(3.30,1.68)(3.55,1.65)(2.30,1.48)(2.45,1.60)(1.82,0.83)(2.10,0.77)(1.30,0.70)(1.32,0.62)(3.10,2.30)(3.80,2.55)(3.95,3.00)(2.80,1.90)(3.00,2.20)(3.35,3.25)(1.75,2.30)};
\addplot[sc] coordinates {(0.95,1.55)(1.00,1.00)(1.05,1.68)(1.11,1.04)(1.17,1.72)(1.23,1.05)(1.29,1.82)(1.35,1.12)(1.41,1.90)(1.47,1.05)(1.53,1.88)(1.59,1.18)(1.65,1.98)(1.71,1.25)(1.78,2.08)(1.85,1.22)(1.93,2.20)(2.00,1.35)(2.08,1.58)(1.08,1.48)(1.22,1.40)(1.32,1.58)(1.44,1.30)(1.56,1.40)(1.68,1.56)(1.82,1.55)(1.18,1.22)(1.38,1.18)(0.98,1.25)(1.10,1.32)(2.18,1.60)(2.26,2.40)(2.34,1.85)(2.42,2.60)(2.50,2.05)(2.58,2.75)(2.66,2.15)(2.72,2.85)(2.30,2.05)(2.48,2.25)};
\end{axis}
% ---------------- Row 5 ----------------
\begin{axis}[panel, at={(27pt,190.95pt)}, Xa, Ye]
\rhotxt{0.06}
\end{axis}
\begin{axis}[panel, at={(141.15pt,190.95pt)}, Xb, Ye]
\rhotxt{0.02}
\end{axis}
\begin{axis}[panel, at={(255.3pt,190.95pt)}, Xc, Ye]
\rhotxt{0.05}
\end{axis}
\begin{axis}[panel, at={(369.45pt,190.95pt)}, Xd, Ye]
\rhotxt{0.68}
\end{axis}
\begin{axis}[panel, at={(483.6pt,190.95pt)}, Xe, Hy]
\addplot[hb] coordinates {(0.53,0.014)(1.0,0.84)(1.5,1.0)(2.0,0.307)(2.5,0.132)(3.0,0.085)(3.5,0.014)(4.0,0)};
\ttl{lymphocyte\_cells\_BR3219A}
\end{axis}
\begin{axis}[panel, at={(597.75pt,190.95pt)}, Xf, Ye, rightt, ytick={1,1.5,2,2.5,3,3.5,4}, yticklabels={1.0,,2.0,,3.0,,4.0}]
\addplot[sc] coordinates {
(0.98,1.35)(1.01,1.20)(1.04,1.50)(1.07,1.28)(1.10,1.42)(1.13,1.12)(1.16,1.58)(1.19,1.32)(1.22,1.46)(1.25,1.20)(1.28,1.68)(1.31,1.40)(1.34,1.55)(1.37,1.25)(1.40,1.72)(1.43,1.45)(1.46,1.60)(1.49,1.15)(1.52,1.36)(1.55,1.68)(1.58,1.50)(1.61,1.82)(1.64,1.30)(1.67,1.58)(1.70,1.44)(1.73,1.75)(1.76,1.55)(1.80,1.90)(1.84,1.65)(1.88,1.45)(1.92,1.82)(1.96,1.62)(2.00,2.00)(2.05,1.78)(2.10,1.95)(1.20,1.40)(1.30,1.35)(1.40,1.40)(1.50,1.50)(1.25,1.55)(1.35,1.30)(1.45,1.55)(1.20,1.05)(1.40,1.00)(0.91,1.52)(0.77,1.30)(1.65,1.20)
(2.15,2.05)(2.20,2.25)(2.25,2.10)(2.30,2.40)(2.35,2.20)(2.40,2.50)(2.45,2.30)(2.52,2.60)(2.60,2.40)(2.68,2.70)(2.75,2.50)(2.85,2.80)(2.95,2.60)(2.00,2.30)(1.90,2.20)(2.25,1.85)
(4.43,3.94)(1.87,3.72)(2.23,3.63)(2.35,3.45)(2.50,3.40)(2.60,3.37)(1.57,3.06)(1.85,3.04)(1.95,2.85)(2.10,2.80)(3.47,3.44)(2.92,3.06)(3.20,3.10)(3.57,3.20)(3.65,3.55)(3.92,3.44)(4.00,3.10)(4.05,2.85)(3.69,2.29)(3.40,2.10)(2.90,2.15)(2.92,0.97)(3.11,1.74)(2.65,1.46)(2.75,1.65)(2.95,1.85)(1.45,0.80)(1.32,0.64)(3.20,2.60)(3.50,2.70)(3.80,2.45)(3.30,2.90)(2.60,2.95)(1.70,2.45)(2.40,1.70)};
\addplot[sc] coordinates {(1.00,1.58)(1.05,1.02)(1.10,1.72)(1.16,1.06)(1.22,1.78)(1.28,1.08)(1.34,1.88)(1.40,1.16)(1.46,1.95)(1.52,1.10)(1.58,1.95)(1.64,1.22)(1.70,2.05)(1.76,1.30)(1.83,2.15)(1.90,1.30)(1.97,2.25)(2.04,1.45)(2.10,1.65)(1.08,1.50)(1.22,1.40)(1.32,1.62)(1.44,1.34)(1.56,1.44)(1.68,1.62)(1.82,1.60)(1.18,1.22)(1.38,1.20)(0.95,1.25)(1.12,1.35)(2.16,1.70)(2.24,2.50)(2.32,1.95)(2.40,2.70)(2.48,2.10)(2.56,2.85)(2.64,2.25)(2.72,2.95)(2.30,2.15)(2.50,2.35)};
\end{axis}
% ---------------- Row 6 ----------------
\begin{axis}[panel, at={(27pt,101.63pt)}, Xa, Yf, leftt, bott, ytick={1,2,3,4}, yticklabels={1,2,3,4}, xtick={1,2,3,4,5,6}, xticklabels={1,2,3,4,5,6}]
\rhotxt{0.01}
\end{axis}
\begin{axis}[panel, at={(141.15pt,101.63pt)}, Xb, Yf]
\rhotxt{0}
\end{axis}
\begin{axis}[panel, at={(255.3pt,101.63pt)}, Xc, Yf, bott, xtick={1,2,3,4,5}, xticklabels={1,2,3,4,5}]
\rhotxt{0.03}
\end{axis}
\begin{axis}[panel, at={(369.45pt,101.63pt)}, Xd, Yf]
\rhotxt{0.64}
\end{axis}
\begin{axis}[panel, at={(483.6pt,101.63pt)}, Xe, Yf, bott, xtick={1,1.5,2,2.5,3,3.5,4}, xticklabels={1.0,,2.0,,3.0,,4.0}]
\rhotxt{0.67}
\end{axis}
\begin{axis}[panel, at={(597.75pt,101.63pt)}, Xf, Hy]
\addplot[hb] coordinates {(0.59,0.047)(1.0,0.953)(1.5,1.0)(2.0,0.265)(2.5,0.172)(3.0,0.102)(3.5,0.051)(4.0,0.014)(4.47,0)};
\ttl{lymphocyte\_cells\_BR987.1A}
\end{axis}
\end{tikzpicture}
\end{document}
